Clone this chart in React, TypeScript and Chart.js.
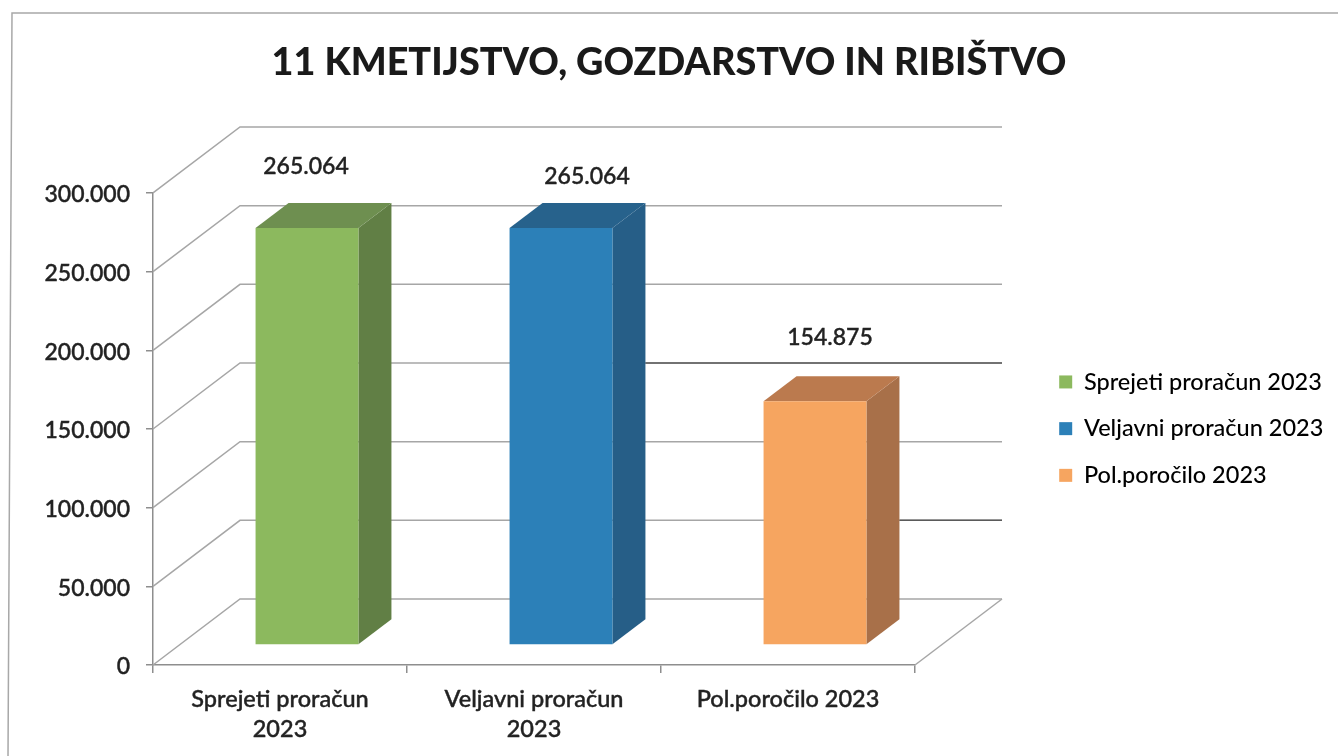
import React, { useEffect, useRef } from "react";
import { Chart, registerables } from "chart.js";

Chart.register(...registerables);

const TITLE = "11 KMETIJSTVO, GOZDARSTVO IN RIBIŠTVO";
const categories = [["Sprejeti proračun", "2023"], ["Veljavni proračun", "2023"], "Pol.poročilo 2023"];
const legendNames = ["Sprejeti proračun 2023", "Veljavni proračun 2023", "Pol.poročilo 2023"];
const values = [265064, 265064, 154875];
const frontColors = ["#8cb95e", "#2c80b8", "#f6a560"];
const sideColors = ["#617f45", "#265e87", "#a87049"];
const topColors = ["#6e8f50", "#27628c", "#bb7a4e"];
const labelNudges = [{ x: 26, y: -81 }, { x: 53, y: -71 }, { x: 42, y: -84 }];

const fmt = (n: number) => String(n).replace(/\B(?=(\d{3})+(?!\d))/g, ".");
const FONT = "Lato, Carlito, 'Open Sans', sans-serif";
const TEXT = "#222222";
const GRID = "#a6a6a6";
const AXIS = "#8e8e8e";
const WALL = { dx: 87, dy: -66 };
const BAR_SHIFT = { x: 27, y: -20 };
const BAR_DEPTH = { x: 33, y: -25 };

const box3d = {
  id: "box3d",
  afterLayout(chart: any) {
    const t = chart.titleBlock;
    t.left = 0; t.right = 1338; t.width = 1338;
    const l = chart.legend;
    l.left = 1036; l.right = 1338; l.top = 347; l.bottom = 560;
    const y = chart.scales.y;
    if (!y._nudged) {
      y._nudged = true;
      const orig = y.drawLabels;
      y.drawLabels = function (area: any) {
        this.ctx.save();
        this.ctx.translate(0, 2);
        orig.call(this, area);
        this.ctx.restore();
      };
    }
  },
  beforeDraw(chart: any) {
    const { ctx, width, height } = chart;
    ctx.save();
    ctx.fillStyle = "#ffffff";
    ctx.fillRect(0, 0, width, height);
    ctx.strokeStyle = "#a8a8a8";
    ctx.lineWidth = 1.5;
    ctx.beginPath();
    ctx.moveTo(1338, 13);
    ctx.lineTo(12, 13);
    ctx.lineTo(8, 756);
    ctx.stroke();
    ctx.restore();
  },
  beforeDatasetsDraw(chart: any) {
    const { ctx, chartArea, scales } = chart;
    const y = scales.y;
    const bars = chart.getDatasetMeta(0).data;
    ctx.save();
    ctx.lineWidth = 1.5;
    y.ticks.forEach((tick: any) => {
      const py = y.getPixelForValue(tick.value);
      ctx.strokeStyle = GRID;
      ctx.beginPath();
      ctx.moveTo(chartArea.left, py);
      ctx.lineTo(chartArea.left + WALL.dx, py + WALL.dy);
      ctx.lineTo(chartArea.right + WALL.dx, py + WALL.dy);
      ctx.stroke();
      if (tick.value === 0) {
        ctx.beginPath();
        ctx.moveTo(chartArea.right + WALL.dx, py + WALL.dy);
        ctx.lineTo(chartArea.right, py);
        ctx.stroke();
      }
      // darker stretches of the wall lines, as they appear in the print
      const darkFrom = tick.value === 150000 ? 1 : tick.value === 50000 ? 2 : -1;
      if (darkFrom >= 0) {
        const b = bars[darkFrom];
        ctx.strokeStyle = "#5a5a5a";
        ctx.beginPath();
        ctx.moveTo(b.x + b.width / 2 + BAR_SHIFT.x + BAR_DEPTH.x, py + WALL.dy);
        ctx.lineTo(chartArea.right + WALL.dx, py + WALL.dy);
        ctx.stroke();
      }
    });
    ctx.restore();

    ctx.save();
    bars.forEach((b: any, i: number) => {
      const l = b.x - b.width / 2 + BAR_SHIFT.x;
      const r = b.x + b.width / 2 + BAR_SHIFT.x;
      const t = b.y + BAR_SHIFT.y;
      const bt = b.base + BAR_SHIFT.y;
      ctx.fillStyle = sideColors[i];
      ctx.beginPath();
      ctx.moveTo(r, t);
      ctx.lineTo(r + BAR_DEPTH.x, t + BAR_DEPTH.y);
      ctx.lineTo(r + BAR_DEPTH.x, bt + BAR_DEPTH.y);
      ctx.lineTo(r, bt);
      ctx.closePath();
      ctx.fill();
      ctx.fillStyle = topColors[i];
      ctx.beginPath();
      ctx.moveTo(l, t);
      ctx.lineTo(l + BAR_DEPTH.x, t + BAR_DEPTH.y);
      ctx.lineTo(r + BAR_DEPTH.x, t + BAR_DEPTH.y);
      ctx.lineTo(r, t);
      ctx.closePath();
      ctx.fill();
    });
    ctx.restore();
    ctx.save();
    ctx.translate(BAR_SHIFT.x, BAR_SHIFT.y);
  },
  afterDatasetsDraw(chart: any) {
    const { ctx } = chart;
    ctx.restore();
    const bars = chart.getDatasetMeta(0).data;
    ctx.save();
    ctx.fillStyle = TEXT;
    ctx.strokeStyle = TEXT;
    ctx.lineWidth = 0.4;
    ctx.font = `500 23px ${FONT}`;
    ctx.textAlign = "center";
    ctx.textBaseline = "middle";
    bars.forEach((b: any, i: number) => {
      ctx.fillText(fmt(values[i]), b.x + labelNudges[i].x, b.y + labelNudges[i].y);
      ctx.strokeText(fmt(values[i]), b.x + labelNudges[i].x, b.y + labelNudges[i].y);
    });
    ctx.restore();
  },
};

export default function App() {
  const ref = useRef<HTMLCanvasElement | null>(null);
  useEffect(() => {
    const chart = new Chart(ref.current as HTMLCanvasElement, {
      type: "bar",
      data: {
        labels: categories as any,
        datasets: [
          {
            data: values,
            backgroundColor: frontColors,
            barPercentage: 0.405,
            categoryPercentage: 1,
            clip: false as any,
          },
        ],
      },
      plugins: [box3d],
      options: {
        responsive: false,
        animation: false,
        layout: { padding: { left: 0, top: 0, right: 423, bottom: 0 } },
        plugins: {
          title: {
            display: true,
            text: TITLE,
            color: "#1a1a1a",
            font: { family: FONT, size: 37.8, weight: "900", lineHeight: 1.2 },
            padding: { top: 40, bottom: 107.6 },
          },
          legend: {
            display: true,
            position: "chartArea" as any,
            align: "start",
            labels: {
              boxWidth: 13,
              boxHeight: 13,
              padding: 23.2,
              color: TEXT,
              font: { family: FONT, size: 23.5, weight: "500" },
              generateLabels: () =>
                legendNames.map((name, i) => ({
                  text: name,
                  fillStyle: frontColors[i],
                  strokeStyle: frontColors[i],
                  lineWidth: 0,
                  index: i,
                })),
            },
          },
          tooltip: { enabled: false },
        },
        scales: {
          x: {
            offset: true,
            afterFit: (s: any) => { s.height = 91; },
            grid: { offset: true, drawOnChartArea: false, drawTicks: true, tickLength: 8, color: AXIS, lineWidth: 1.5 },
            border: { display: true, color: AXIS, width: 1.5 },
            ticks: {
              padding: 11,
              color: TEXT,
              maxRotation: 0,
              autoSkip: false,
              textStrokeColor: TEXT,
              textStrokeWidth: 0.4,
              font: { family: FONT, size: 23.5, weight: "500", lineHeight: 1.28 },
            },
          },
          y: {
            min: 0,
            max: 300000,
            afterFit: (s: any) => { s.width = 153; },
            grid: { drawOnChartArea: false, drawTicks: true, tickLength: 7, color: AXIS, lineWidth: 1.5 },
            border: { display: true, color: AXIS, width: 1.5 },
            ticks: {
              stepSize: 50000,
              padding: 16,
              color: TEXT,
              textStrokeColor: TEXT,
              textStrokeWidth: 0.4,
              font: { family: FONT, size: 23, weight: "500" },
              callback: (v: any) => fmt(Number(v)),
            },
          },
        },
      },
    });
    return () => chart.destroy();
  }, []);
  return (
    <div style={{ position: "absolute", left: 0, top: 0, width: 1338, height: 756 }}>
      <canvas ref={ref} width={1338} height={756} style={{ display: "block" }} />
    </div>
  );
}
